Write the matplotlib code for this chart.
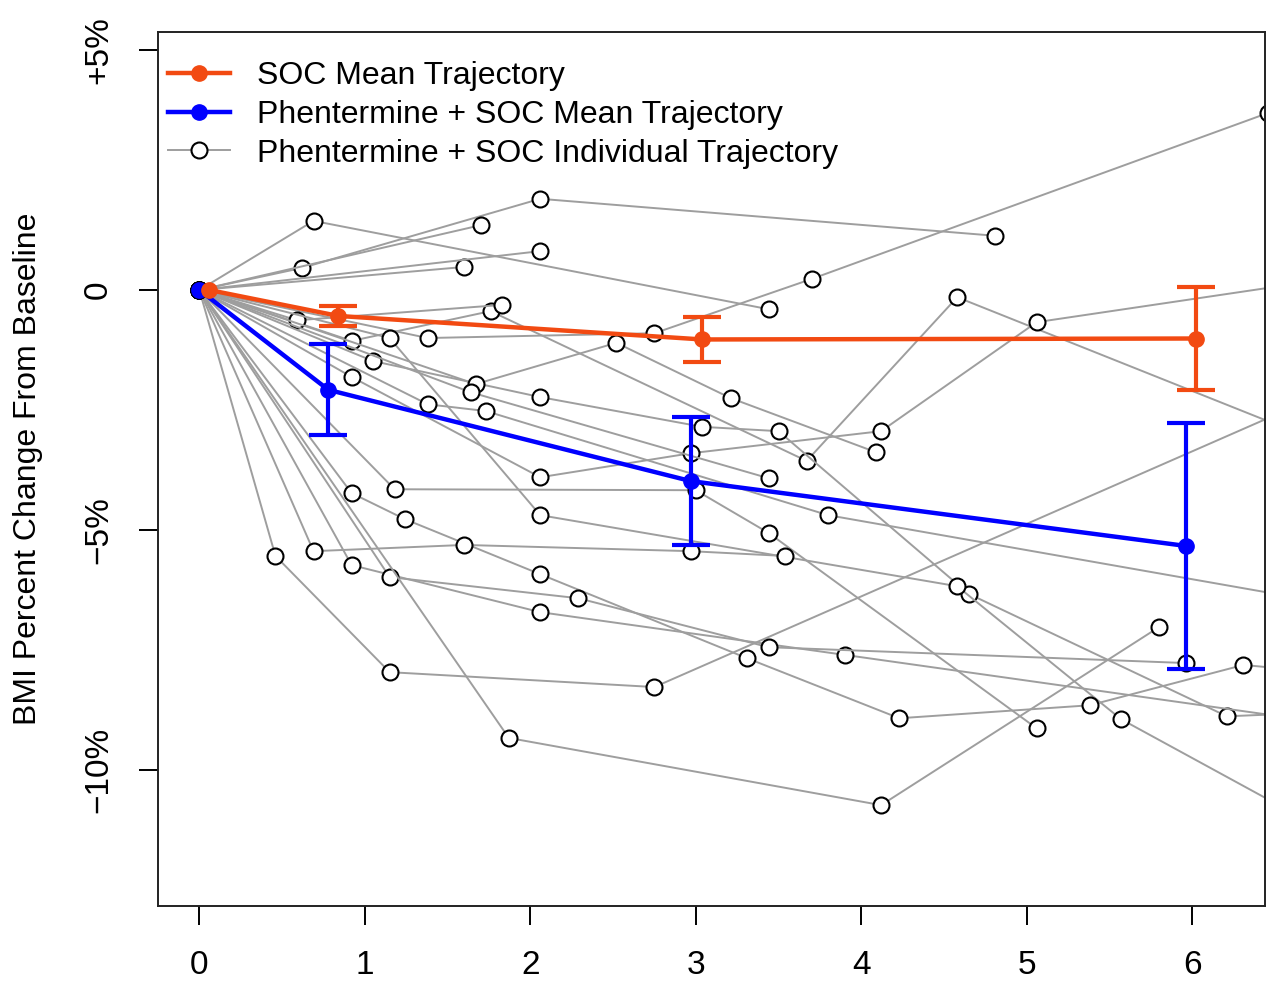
import matplotlib
matplotlib.use("Agg")
import matplotlib.pyplot as plt
from matplotlib.lines import Line2D

plt.rcParams['font.family'] = ['Liberation Sans', 'DejaVu Sans']

# ---- mean trajectories (months, % change, SE) ----
soc_months = [0.06, 0.84, 3.04, 6.02]
soc_change = [0.0, -0.54, -1.03, -1.01]
soc_err = [0.0, 0.21, 0.47, 1.07]

phen_months = [0.0, 0.78, 2.97, 5.96]
phen_change = [0.0, -2.08, -3.98, -5.33]
phen_err = [0.0, 0.95, 1.33, 2.57]

# ---- individual trajectories (Phentermine + SOC) ----
indiv_months = [
    [0, 0.69, 3.44],
    [0, 0.62, 2.06, 4.81],
    [0, 1.70],
    [0, 1.60],
    [0, 2.06],
    [0, 1.38, 2.75, 3.70, 6.46],
    [0, 0.92, 1.76, 3.67, 4.58, 6.9],
    [0, 0.59, 1.83],
    [0, 1.05, 2.06, 3.04, 3.50, 4.65, 6.21, 6.9],
    [0, 1.67, 2.52, 3.21, 4.09],
    [0, 0.92, 2.06, 2.97, 4.12, 5.06, 6.9],
    [0, 1.64, 3.44],
    [0, 1.38, 1.73, 3.80, 6.9],
    [0, 1.15, 2.06, 4.58, 5.57, 6.9],
    [0, 0.92, 1.24, 2.06, 3.31, 4.23, 5.38, 6.31, 6.9],
    [0, 1.18, 3.00, 3.44, 5.06],
    [0, 0.46, 1.15, 2.75, 7.0],
    [0, 0.69, 1.60, 2.97, 3.54],
    [0, 0.92, 2.06, 3.90, 6.9],
    [0, 1.15, 2.29, 3.44, 5.96],
    [0, 1.87, 4.12, 5.80],
]
indiv_change = [
    [0, 1.44, -0.40],
    [0, 0.46, 1.90, 1.13],
    [0, 1.35],
    [0, 0.48],
    [0, 0.81],
    [0, -1.00, -0.90, 0.23, 3.69],
    [0, -1.06, -0.44, -3.56, -0.15, -3.34],
    [0, -0.63, -0.31],
    [0, -1.48, -2.23, -2.85, -2.94, -6.33, -8.88, -8.78],
    [0, -1.96, -1.10, -2.25, -3.38],
    [0, -1.81, -3.90, -3.40, -2.94, -0.67, 0.27],
    [0, -2.13, -3.92],
    [0, -2.38, -2.52, -4.69, -6.57],
    [0, -1.00, -4.69, -6.17, -8.94, -11.44],
    [0, -4.23, -4.77, -5.92, -7.67, -8.92, -8.65, -7.81, -8.00],
    [0, -4.15, -4.17, -5.06, -9.13],
    [0, -5.54, -7.96, -8.27, -1.85],
    [0, -5.44, -5.31, -5.44, -5.54],
    [0, -5.73, -6.71, -7.60, -9.06],
    [0, -5.98, -6.42, -7.44, -7.77],
    [0, -9.33, -10.73, -7.02],
]

x_ticks = [0, 1, 2, 3, 4, 5, 6]
y_ticks = [5, 0, -5, -10]
y_tick_labels = ['+5%', '0', '\u22125%', '\u221210%']

ORANGE = '#F24A12'
BLUE = '#0000FF'
GRAY = '#9E9E9E'

fig = plt.figure(figsize=(12.72, 9.81), dpi=100)
ax = fig.add_axes([0.1242, 0.0765, 0.8703, 0.8909])

for mx, my in zip(indiv_months, indiv_change):
    ax.plot(mx, my, color=GRAY, lw=1.4, marker='o', markersize=11.5,
            markerfacecolor='white', markeredgecolor='black',
            markeredgewidth=1.5, zorder=2)

ax.errorbar(phen_months[1:], phen_change[1:], yerr=phen_err[1:], fmt='none',
            ecolor=BLUE, elinewidth=3, capsize=14, capthick=3, zorder=4)
ax.plot(phen_months, phen_change, color=BLUE, lw=3.2, marker='o',
        markersize=11, zorder=5)

ax.errorbar(soc_months[1:], soc_change[1:], yerr=soc_err[1:], fmt='none',
            ecolor=ORANGE, elinewidth=3, capsize=14, capthick=3, zorder=6)
ax.plot(soc_months, soc_change, color=ORANGE, lw=3.2, marker='o',
        markersize=11, zorder=7)

ax.set_xlim(-0.25, 6.44)
ax.set_ylim(-12.83, 5.375)
ax.set_xticks(x_ticks)
ax.set_xticklabels([str(t) for t in x_ticks])
ax.set_yticks(y_ticks)
ax.set_yticklabels(y_tick_labels, rotation=90, va='center')

ax.tick_params(direction='out', length=13.5, width=1.4, labelsize=24,
               pad=18, colors='black')
for s in ax.spines.values():
    s.set_linewidth(1.4)
    s.set_color('#222222')

ax.set_ylabel('BMI Percent Change From Baseline', fontsize=23, labelpad=29)

handles = [
    Line2D([], [], color=ORANGE, lw=3.2, marker='o', markersize=11),
    Line2D([], [], color=BLUE, lw=3.2, marker='o', markersize=11),
    Line2D([], [], color=GRAY, lw=1.4, marker='o', markersize=11.5,
           markerfacecolor='white', markeredgecolor='black', markeredgewidth=1.5),
]
labels = ['SOC Mean Trajectory', 'Phentermine + SOC Mean Trajectory',
          'Phentermine + SOC Individual Trajectory']
ax.legend(handles, labels, loc='upper left', frameon=False, fontsize=23,
          handlelength=1.94, handletextpad=0.87, labelspacing=0.28,
          borderpad=0.2, borderaxespad=0.1, bbox_to_anchor=(0.0, 0.978))

fig.savefig('out.png', dpi=100)
